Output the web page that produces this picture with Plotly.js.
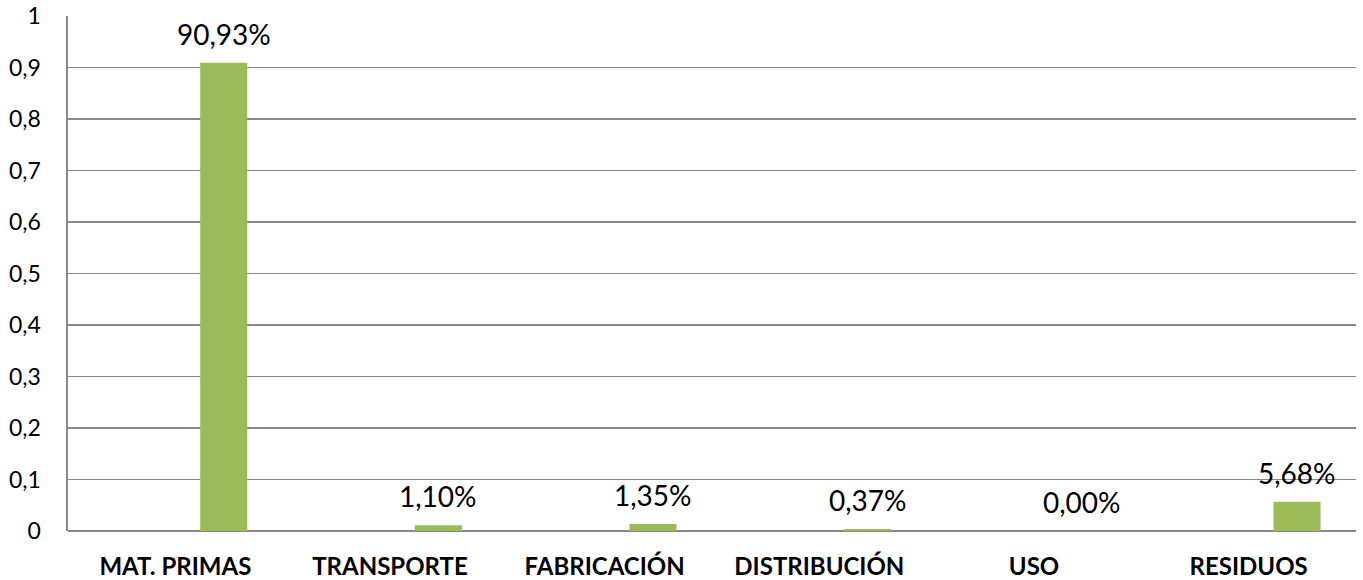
<!DOCTYPE html>
<html>
<head>
<meta charset="utf-8">
<script src="https://cdn.plot.ly/plotly-3.0.1.min.js"></script>
<style>html,body{margin:0;padding:0;background:#fff;}#chart{width:1363px;height:580px;}</style>
</head>
<body>
<div id="chart"></div>
<script>
var categories = ["MAT. PRIMAS", "TRANSPORTE", "FABRICACIÓN", "DISTRIBUCIÓN", "USO", "RESIDUOS"];
var values = [0.9093, 0.0110, 0.0135, 0.0037, 0.0000, 0.0568];
var labels = ["90,93%", "1,10%", "1,35%", "0,37%", "0,00%", "5,68%"];
var yTickVals = [0, 0.1, 0.2, 0.3, 0.4, 0.5, 0.6, 0.7, 0.8, 0.9, 1];
var yTickText = ["0", "0,1", "0,2", "0,3", "0,4", "0,5", "0,6", "0,7", "0,8", "0,9", "1"];

var idx = categories.map(function (c, i) { return i; });
var barOffset = 0.116, barWidth = 0.219;

var trace = {
  type: "bar",
  x: idx,
  y: values,
  offset: barOffset,
  width: barWidth,
  marker: { color: "#9BBB59" },
  hoverinfo: "skip"
};

var annotations = idx.map(function (i) {
  return {
    x: i + barOffset + barWidth / 2,
    y: values[i],
    xref: "x", yref: "y",
    text: labels[i],
    showarrow: false,
    yanchor: "middle",
    yshift: 29,
    font: { family: "Lato, 'Open Sans', sans-serif", size: 28, color: "#000" }
  };
});

var layout = {
  width: 1363, height: 580,
  margin: { l: 68, r: 7, t: 16, b: 49 },
  paper_bgcolor: "#fff", plot_bgcolor: "#fff",
  showlegend: false,
  xaxis: {
    range: [-0.5, 5.5],
    tickmode: "array",
    tickvals: idx,
    ticktext: categories,
    showgrid: false,
    zeroline: false,
    showline: false,
    ticks: "",
    ticklabelstandoff: 19,
    tickfont: { family: "Lato, 'Open Sans', sans-serif", size: 24, color: "#000", weight: "bold" },
    fixedrange: true
  },
  yaxis: {
    range: [0, 1],
    tickmode: "array",
    tickvals: yTickVals,
    ticktext: yTickText,
    showgrid: true,
    gridcolor: "#898989",
    gridwidth: 1.6,
    zeroline: true,
    zerolinecolor: "#898989",
    zerolinewidth: 1.6,
    showline: true,
    linecolor: "#898989",
    linewidth: 1.6,
    ticks: "",
    ticklabelstandoff: 21,
    tickfont: { family: "Lato, 'Open Sans', sans-serif", size: 23, color: "#000" },
    fixedrange: true
  },
  annotations: annotations
};

Plotly.newPlot("chart", [trace], layout, { displayModeBar: false, staticPlot: true });
</script>
</body>
</html>
